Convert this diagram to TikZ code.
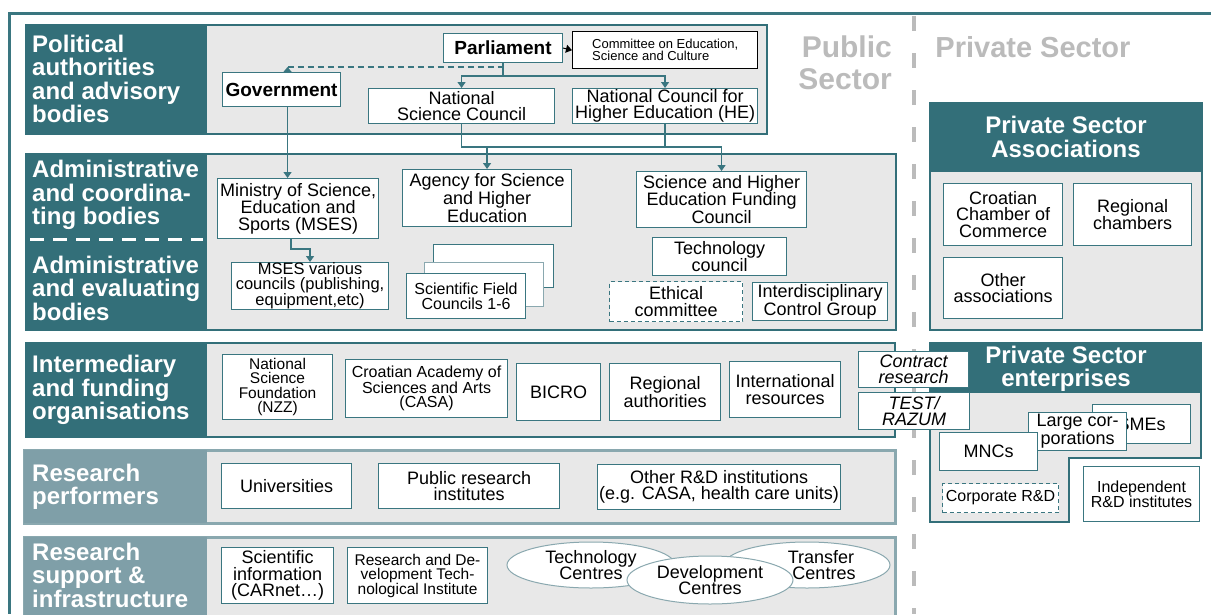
\documentclass[tikz,border=0pt]{standalone}
\usepackage{fontspec}
\setmainfont{Liberation Sans}
\usetikzlibrary{arrows.meta, shapes.geometric}

\definecolor{rowteal}{HTML}{336F79}
\definecolor{rowpale}{HTML}{7F9FA8}
\definecolor{rowline}{HTML}{8AA8AF}
\definecolor{boxteal}{HTML}{3A7680}
\definecolor{panel}{HTML}{E8E8E8}
\definecolor{sectorgray}{HTML}{BBBBBB}

\newcommand{\fsz}[2]{\fontsize{#1}{#2}\selectfont}

\begin{document}
\begin{tikzpicture}[x=1pt, y=-1pt]
\useasboundingbox (0,0) rectangle (1211,614);
\tikzstyle{box}=[draw=boxteal, fill=white, line width=1.1pt, inner sep=0pt,
			align=center, anchor=north west, font=\fsz{18}{16.5}]
\tikzstyle{rowlabel}=[anchor=west, align=left, text=white, inner sep=0pt,
			font=\bfseries\fsz{24}{23.5}]
\tikzstyle{link}=[draw=boxteal, line width=1.3pt]
\tikzstyle{tip}=[-{Triangle[length=6pt,width=8pt]}]
\tikzstyle{oval}=[ellipse, draw=rowline, fill=white, line width=1pt,
			inner sep=0pt, align=center, font=\fsz{18}{16.5}]
\tikzset{wh/.style 2 args={minimum width=#1pt, minimum height=#2pt}}


% frame and sector divider
\draw[boxteal, line width=3pt] (1211,13) -- (9,13) -- (9,614);
\draw[sectorgray, line width=4pt, dash pattern=on 15pt off 22pt] (914,16) -- (914,614);

\node[font=\bfseries\fsz{30}{32}, text=sectorgray, align=right, anchor=east, inner sep=0pt] (pubsec) at (892,63) {Public\\Sector};
\node[font=\bfseries\fsz{29}{29}, text=sectorgray, inner sep=0pt] (privsec) at (1033,47) {Private Sector};


% row 1
\filldraw[fill=panel, draw=rowteal, line width=2.5pt] (26,25) rectangle (767,134);
\fill[rowteal] (26,25) rectangle (207,134);
\node[rowlabel] (lpol) at (32,79) {Political\\authorities\\and advisory\\bodies};

\node[box, wh={119}{29}, font=\bfseries\fsz{19}{19}] (parl) at (443,33) {Parliament};
\node[box, wh={185}{37}, draw=black, line width=1.4pt, align=left, font=\fsz{13}{10.5}] (committee) at (572,31) {Committee on Education,\\Science and Culture};
\node[box, wh={118}{34}, font=\bfseries\fsz{19}{19}] (gov) at (222,72) {Government};
\node[box, wh={186}{35}] (nsc) at (368,88) {National\\Science Council};
\node[box, wh={185}{35}] (nche) at (572,88) {National Council for\\Higher Education (HE)};


% row 2
\filldraw[fill=panel, draw=rowteal, line width=2.5pt] (26,154) rectangle (896,330);
\fill[rowteal] (26,154) rectangle (207,330);
\node[rowlabel] (lcoord) at (32,195) {Administrative\\and coordina-\\ting bodies};
\node[rowlabel] (leval) at (32,288) {Administrative\\and evaluating\\bodies};
\draw[white, line width=3pt, dash pattern=on 14pt off 9pt] (30,239) -- (203,239);

\node[box, wh={161}{60}] (ministry) at (217,178) {Ministry of Science,\\Education and\\Sports (MSES)};
\node[box, wh={157}{46}, font=\fsz{16.5}{15}] (mcouncils) at (231,262) {MSES various\\councils (publishing,\\equipment,etc)};
\node[box, wh={169}{57}] (agency) at (402,169) {Agency for Science\\and Higher\\Education};
\node[box, wh={120}{43}] (sfcback) at (433,244) {};
\node[box, wh={119}{44}, draw=rowline] (sfcmid) at (424,262) {};
\node[box, wh={119}{45}, font=\fsz{16}{15}] (sfc) at (406,273) {Scientific Field\\Councils 1-6};
\node[box, wh={170}{56}] (shefc) at (636,171) {Science and Higher\\Education Funding\\Council};
\node[box, wh={134}{38}] (techc) at (652,237) {Technology\\council};
\node[box, wh={133}{40}, dash pattern=on 4pt off 3pt] (ethic) at (609,281) {Ethical\\committee};
\node[box, wh={135}{38}] (icg) at (752,282) {Interdisciplinary\\Control Group};


% row 3
\filldraw[fill=panel, draw=rowteal, line width=2.5pt] (26,343) rectangle (895,437);
\fill[rowteal] (26,343) rectangle (207,437);
\node[rowlabel] (linter) at (32,390) {Intermediary\\and funding\\organisations};

\node[box, wh={110}{65}, font=\fsz{15.5}{14.5}] (nzz) at (222,354) {National\\Science\\Foundation\\(NZZ)};
\node[box, wh={162}{58}, font=\fsz{16}{14.5}] (casa) at (345,359) {Croatian Academy of\\Sciences and Arts\\(CASA)};
\node[box, wh={84}{57}] (bicro) at (516,363) {BICRO};
\node[box, wh={111}{57}] (regauth) at (609,363) {Regional\\authorities};
\node[box, wh={111}{56}] (intres) at (729,361) {International\\resources};


% row 4
\filldraw[fill=panel, draw=rowline, line width=3pt] (24,450) rectangle (895,523);
\fill[rowpale] (24,450) rectangle (207,523);
\node[rowlabel] (lperf) at (32,487) {Research\\performers};

\node[box, wh={130}{45}] (univ) at (221,463) {Universities};
\node[box, wh={181}{45}] (pri) at (378,463) {Public research\\institutes};
\node[box, wh={243}{45}] (otherrd) at (597,464) {Other R\&D institutions\\(e.g. CASA, health care units)};


% row 5
\filldraw[fill=panel, draw=rowline, line width=3pt] (24,537) rectangle (895,624);
\fill[rowpale] (24,537) rectangle (207,624);
\node[rowlabel] (lsupp) at (32,575) {Research\\support \&\\infrastructure};

\node[box, wh={112}{56}] (sciinfo) at (221,547) {Scientific\\information\\(CARnet…)};
\node[box, wh={140}{56}, font=\fsz{15.5}{14.5}] (rdti) at (347,547) {Research and De-\\velopment Tech-\\nological Institute};
\node[oval, wh={168}{46}] (techcen) at (591,565) {Technology\\Centres};
\node[oval, wh={166}{46}] (transcen) at (807,565) {\hspace*{28pt}Transfer\\\hspace*{34pt}Centres};
\node[oval, wh={166}{48}] (devcen) at (710,580) {Development\\Centres};


% private sector associations
\filldraw[fill=panel, draw=rowteal, line width=2.5pt] (930,103) rectangle (1202,330);
\fill[rowteal] (930,103) rectangle (1202,172);
\node[font=\bfseries\fsz{24}{23.5}, text=white, align=center] (assoc) at (1066,137) {Private Sector\\Associations};

\node[box, wh={119}{62}] (ccc) at (943,183) {Croatian\\Chamber of\\Commerce};
\node[box, wh={118}{62}] (regch) at (1073,183) {Regional\\chambers};
\node[box, wh={119}{61}] (otherass) at (943,257) {Other\\associations};


% private sector enterprises
\filldraw[fill=panel, draw=rowteal, line width=2.5pt] (930,343) -- (1201,343) -- (1201,458) -- (1069,458) -- (1069,522) -- (930,522) -- cycle;
\fill[rowteal] (930,343) rectangle (1201,393);
\node[font=\bfseries\fsz{24}{23.5}, text=white, align=center] (enterp) at (1066,369) {Private Sector\\enterprises};

\node[box, wh={98}{39}] (smes) at (1092,404) {SMEs};
\node[box, wh={98}{38}] (largec) at (1028,412) {Large cor-\\porations};
\node[box, wh={98}{38}] (mncs) at (939,432) {MNCs};
\node[box, wh={116}{29}, dash pattern=on 4pt off 3pt, font=\fsz{16}{15}] (corprd) at (942,483) {Corporate R\&D};
\node[box, wh={116}{55}, font=\fsz{16}{15}] (indep) at (1083,466) {Independent\\R\&D institutes};

% links across the divider
\node[box, wh={110}{36}, font=\itshape\fsz{18}{16}] (contract) at (858,351) {Contract\\research};
\node[box, wh={111}{37}, font=\itshape\fsz{18}{16}] (razum) at (858,392) {TEST/\\RAZUM};


% connectors
\draw[black, line width=1pt, tip] (parl.east) -- (committee.west);
\draw[link, tip] (parl.south) -- ++(0,13) -| (nsc.north);
\draw[link, tip] (parl.south) -- ++(0,13) -| (nche.north);

\coordinate (govtip) at ([xshift=6pt, yshift=5pt]gov.north);
\draw[link, dash pattern=on 6pt off 4pt] (govtip) -- (govtip -| parl.south);
\draw[link, -{Triangle[length=5pt,width=8pt]}] ([xshift=6pt]gov.north) -- (govtip);
\draw[link, tip] ([xshift=6pt]gov.south) -- ([xshift=6pt]gov.south |- ministry.north);
\draw[link, tip] ([xshift=-7pt]ministry.south) -- ++(0,10) -| (mcouncils.north);

\coordinate (bus) at ([yshift=-23pt]nsc.south);
\draw[link, tip] (nsc.south) -- (bus) -| (shefc.north);
\draw[link] (nche.south) -- (nche.south |- bus);
\draw[link, tip] (agency.north |- bus) -- (agency.north);

\end{tikzpicture}
\end{document}
